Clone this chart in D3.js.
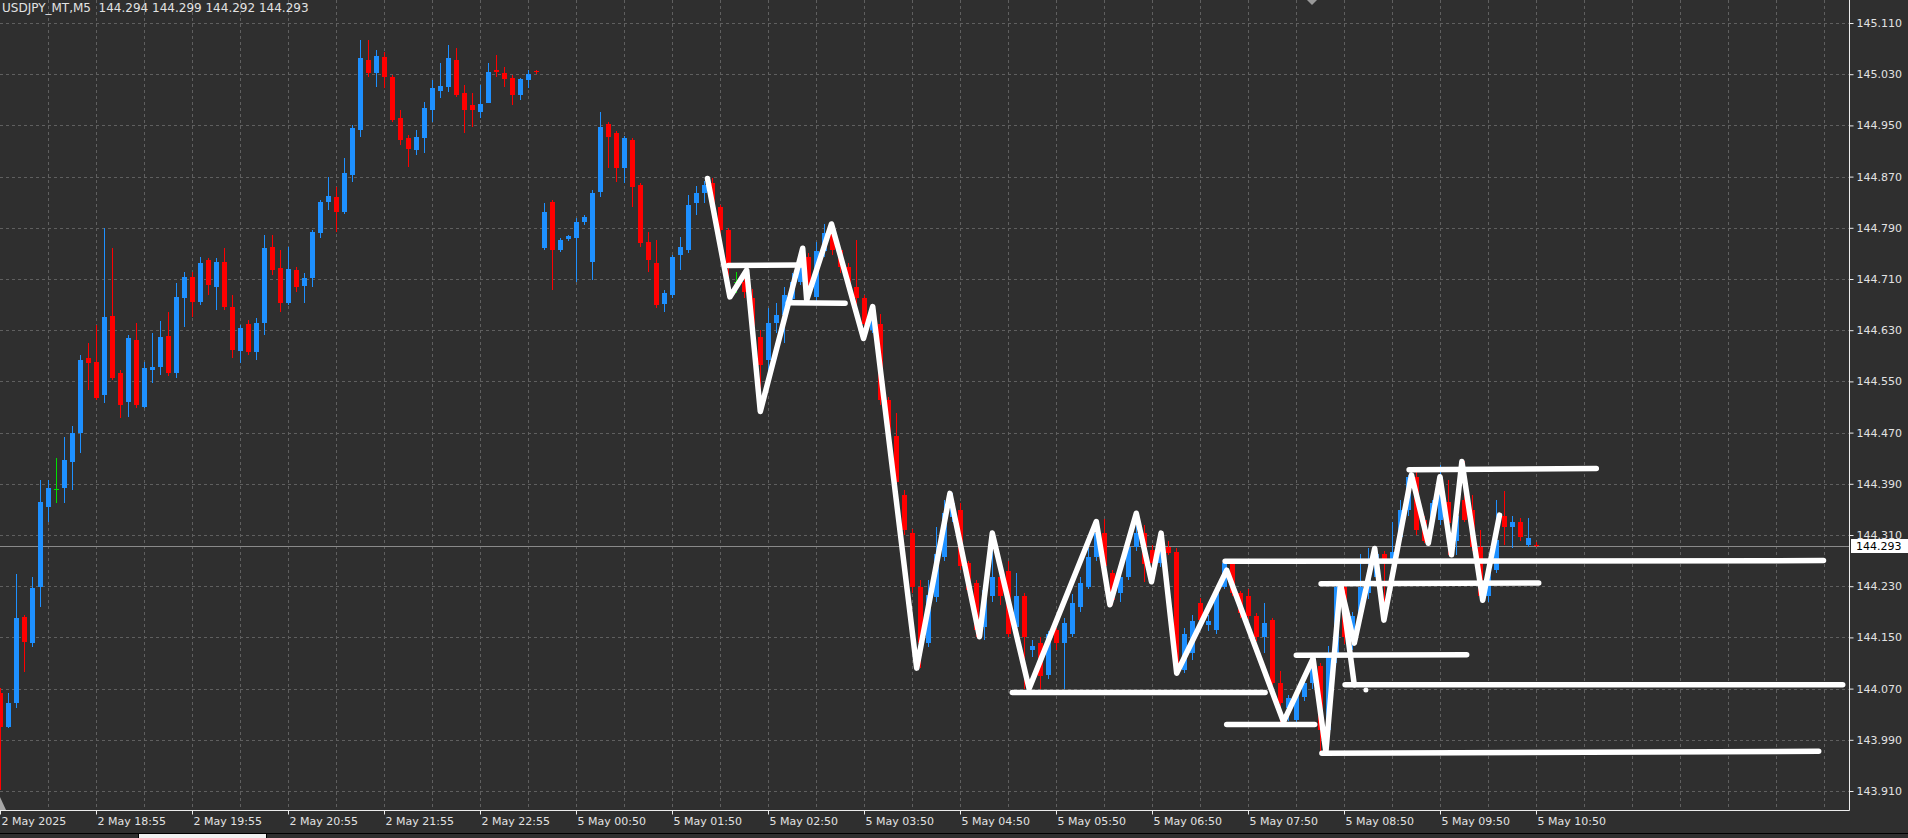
<!DOCTYPE html>
<html><head><meta charset="utf-8">
<script src="https://cdn.jsdelivr.net/npm/d3@7"></script>
<style>
html,body{margin:0;padding:0;background:#2f2f2f;overflow:hidden;}
svg{display:block;}
</style></head><body>
<svg id="chart" width="1908" height="838"></svg>
<script>
const chartTitle = "USDJPY_MT,M5  144.294 144.299 144.292 144.293";
const currentPrice = 144.293;

const opens = [144.063,144.010,144.047,144.182,144.141,144.229,144.354,144.382,144.383,144.424,144.469,144.587,
144.580,144.529,144.652,144.563,144.518,144.615,144.510,144.568,144.573,144.621,144.563,144.680,
144.713,144.674,144.740,144.697,144.737,144.666,144.597,144.640,144.596,144.641,144.760,144.727,
144.673,144.724,144.699,144.712,144.782,144.830,144.838,144.815,144.873,144.943,145.052,145.032,
145.057,145.026,144.962,144.930,144.912,144.930,144.974,145.004,145.010,145.052,145.001,144.982,
144.971,144.985,145.037,145.032,145.024,144.998,145.021,145.035,144.758,144.830,144.755,144.772,
144.774,144.799,144.737,144.846,144.952,144.938,144.883,144.927,144.857,144.768,144.735,144.671,
144.685,144.748,144.755,144.829,144.844,144.860,144.823,144.787,144.705,144.705,144.680,144.620,
144.583,144.641,144.654,144.678,144.706,144.745,144.682,144.753,144.782,144.755,144.729,144.698,
144.680,144.630,144.640,144.521,144.464,144.373,144.313,144.229,144.141,144.213,144.276,144.338,
144.349,144.266,144.235,144.167,144.214,144.245,144.253,144.167,144.214,144.130,144.141,144.091,
144.162,144.141,144.156,144.198,144.229,144.276,144.313,144.250,144.219,144.245,144.292,144.313,
144.287,144.266,144.292,144.284,144.099,144.125,144.203,144.170,144.162,144.229,144.266,144.219,
144.214,144.183,144.151,144.177,144.078,144.040,144.021,144.057,144.078,144.105,144.005,144.125,
144.229,144.146,144.183,144.219,144.245,144.280,144.266,144.307,144.349,144.401,144.334,144.334,
144.334,144.362,144.300,144.365,144.349,144.292,144.214,144.255,144.339,144.323,144.331,144.294,
144.294];
const highs = [144.071,144.063,144.249,144.185,144.244,144.396,144.396,144.430,144.463,144.481,144.591,144.610,
144.638,144.790,144.758,144.568,144.622,144.641,144.580,144.626,144.644,144.658,144.704,144.721,
144.721,144.744,144.743,144.743,144.758,144.685,144.638,144.646,144.649,144.779,144.779,144.755,
144.760,144.729,144.719,144.787,144.833,144.869,144.854,144.899,144.951,145.083,145.083,145.068,
145.065,145.029,144.974,144.935,144.943,144.987,145.021,145.048,145.076,145.071,145.013,145.001,
145.013,145.048,145.060,145.041,145.029,145.024,145.037,145.037,144.829,144.833,144.774,144.779,
144.805,144.810,144.849,144.971,144.955,144.941,144.933,144.930,144.860,144.783,144.771,144.693,
144.748,144.776,144.841,144.855,144.863,144.868,144.826,144.790,144.721,144.724,144.695,144.630,
144.665,144.672,144.698,144.719,144.758,144.750,144.768,144.796,144.790,144.758,144.735,144.771,
144.685,144.667,144.655,144.525,144.500,144.380,144.320,144.240,144.240,144.323,144.365,144.375,
144.360,144.270,144.240,144.240,144.300,144.260,144.270,144.250,144.220,144.146,144.150,144.160,
144.165,144.180,144.218,144.245,144.290,144.331,144.335,144.255,144.250,144.300,144.344,144.325,
144.295,144.313,144.300,144.290,144.165,144.185,144.212,144.185,144.230,144.269,144.270,144.222,
144.225,144.188,144.203,144.180,144.098,144.060,144.068,144.090,144.117,144.110,144.136,144.232,
144.232,144.190,144.281,144.289,144.290,144.285,144.330,144.365,144.404,144.410,144.340,144.365,
144.420,144.396,144.360,144.425,144.372,144.318,144.270,144.365,144.378,144.340,144.337,144.337,
144.299];
const lows = [143.912,144.008,144.040,144.096,144.135,144.197,144.330,144.360,144.360,144.380,144.438,144.537,
144.521,144.516,144.552,144.493,144.494,144.508,144.508,144.548,144.560,144.558,144.555,144.635,
144.651,144.669,144.685,144.662,144.662,144.587,144.579,144.591,144.583,144.622,144.716,144.658,
144.669,144.690,144.673,144.698,144.774,144.818,144.783,144.812,144.862,144.932,145.026,145.010,
145.008,144.955,144.919,144.885,144.904,144.907,144.955,144.993,145.002,144.994,144.938,144.948,
144.962,144.985,145.026,145.010,144.982,144.990,145.008,145.031,144.755,144.693,144.752,144.770,
144.705,144.795,144.708,144.838,144.883,144.862,144.860,144.823,144.760,144.721,144.665,144.658,
144.680,144.724,144.751,144.810,144.829,144.815,144.779,144.682,144.688,144.680,144.630,144.505,
144.557,144.626,144.610,144.670,144.700,144.677,144.675,144.745,144.748,144.720,144.690,144.650,
144.617,144.625,144.513,144.455,144.385,144.310,144.220,144.102,144.135,144.205,144.270,144.330,
144.255,144.215,144.151,144.146,144.205,144.200,144.150,144.160,144.070,144.120,144.070,144.085,
144.130,144.070,144.150,144.190,144.225,144.270,144.255,144.201,144.205,144.240,144.285,144.237,
144.260,144.260,144.278,144.094,144.094,144.115,144.170,144.160,144.155,144.225,144.215,144.180,
144.178,144.145,144.126,144.075,144.018,144.020,144.015,144.050,144.070,143.971,143.990,144.110,
144.140,144.130,144.175,144.210,144.230,144.177,144.255,144.300,144.340,144.310,144.297,144.320,
144.325,144.279,144.279,144.330,144.285,144.208,144.205,144.250,144.294,144.289,144.300,144.292,
144.292];
const closes = [144.010,144.047,144.180,144.143,144.227,144.362,144.383,144.382,144.427,144.469,144.583,144.579,
144.524,144.651,144.555,144.513,144.618,144.513,144.571,144.573,144.619,144.563,144.682,144.713,
144.674,144.735,144.701,144.737,144.666,144.599,144.633,144.596,144.641,144.758,144.724,144.673,
144.726,144.698,144.712,144.783,144.830,144.840,144.815,144.876,144.946,145.055,145.032,145.058,
145.026,144.958,144.927,144.913,144.932,144.977,145.008,145.012,145.055,144.998,144.974,144.974,
144.983,145.033,145.033,145.023,144.998,145.023,145.030,145.033,144.815,144.755,144.771,144.777,
144.799,144.807,144.845,144.948,144.932,144.883,144.930,144.854,144.766,144.740,144.669,144.688,
144.744,144.760,144.826,144.844,144.857,144.823,144.787,144.729,144.705,144.690,144.636,144.575,
144.641,144.654,144.685,144.706,144.745,144.690,144.753,144.782,144.755,144.729,144.698,144.680,
144.640,144.660,144.521,144.464,144.393,144.318,144.229,144.141,144.216,144.281,144.344,144.360,
144.261,144.224,144.162,144.224,144.245,144.215,144.156,144.214,144.151,144.136,144.089,144.156,
144.141,144.172,144.203,144.235,144.276,144.313,144.261,144.208,144.245,144.292,144.313,144.265,
144.266,144.292,144.282,144.099,144.156,144.175,144.177,144.175,144.224,144.266,144.219,144.188,
144.183,144.151,144.172,144.078,144.047,144.055,144.060,144.078,144.105,144.005,144.125,144.229,
144.151,144.183,144.229,144.245,144.280,144.266,144.284,144.349,144.400,144.318,144.300,144.360,
144.401,144.328,144.340,144.334,144.292,144.214,144.255,144.302,144.323,144.331,144.307,144.305,
144.293];

const yTicks = [145.110,145.030,144.950,144.870,144.790,144.710,144.630,144.550,144.470,144.390,144.310,144.230,144.150,144.070,143.990,143.910];
const xTickBars = [0,12,24,36,48,60,72,84,96,108,120,132,144,156,168,180,192];
const xTickLabels = ["2 May 2025","2 May 18:55","2 May 19:55","2 May 20:55","2 May 21:55","2 May 22:55",
"5 May 00:50","5 May 01:50","5 May 02:50","5 May 03:50","5 May 04:50","5 May 05:50","5 May 06:50",
"5 May 07:50","5 May 08:50","5 May 09:50","5 May 10:50"];

// hand-drawn zigzag: [bar position, price]
const zigzagBars = [88.4,91.2,93.3,95.0,100.3,100.8,103.9,107.9,109.05,114.55,118.7,122.4,124.0,128.6,137.0,138.7,142.0,143.9,145.1,147.05,153.3,160.4,164.1,165.7,167.5,169.25,171.8,172.95,176.4,178.5,179.96,181.4,182.7,185.3,187.4];
const zigzagPrices = [144.867,144.682,144.724,144.503,144.758,144.677,144.796,144.617,144.667,144.102,144.375,144.151,144.313,144.070,144.331,144.201,144.344,144.237,144.313,144.094,144.255,144.018,144.117,143.971,144.232,144.141,144.289,144.177,144.404,144.297,144.401,144.279,144.425,144.208,144.341];
const strokeBars = [167.6,169.25];
const strokePrices = [144.230,144.076];
// hand-drawn level lines
const levelStartBar = [91.0,98.5,126.5,153.3,153.1,165.1,162.0,168.1,165.2,176.1];
const levelEndBar   = [100.2,105.6,158.1,164.3,227.9,192.3,183.3,230.3,227.3,199.5];
const levelStartPrice = [144.731,144.673,144.064,144.014,144.269,144.234,144.122,144.076,143.969,144.412];
const levelEndPrice   = [144.732,144.672,144.064,144.014,144.270,144.235,144.123,144.076,143.972,144.414];
const dotBar = 170.7, dotPrice = 144.068;

const W = 1908, H = 838, plotR = 1849, plotB = 810;
const bg = "#2f2f2f", gridC = "#5f5f5f", txtC = "#e2e2e2";
const up = "#1e90ff", down = "#ff0000", doji = "#00e000";

const svg = d3.select("#chart");
svg.append("rect").attr("width", W).attr("height", H).attr("fill", bg);

const x = d3.scaleLinear().domain([0, 230]).range([0.3, 1840.3]);
const y = d3.scaleLinear().domain([143.910, 145.110]).range([791, 23]);

const defs = svg.append("defs");
defs.append("clipPath").attr("id", "plot").append("rect").attr("x", 0).attr("y", 0).attr("width", plotR).attr("height", plotB);

const g = svg.append("g").attr("clip-path", "url(#plot)");

// grid
const vGrid = d3.range(6, 231, 6);
g.append("g").selectAll("line").data(yTicks).join("line")
  .attr("x1", 0).attr("x2", plotR)
  .attr("y1", d => Math.round(y(d)) + 0.5).attr("y2", d => Math.round(y(d)) + 0.5)
  .attr("stroke", gridC).attr("stroke-dasharray", "3,3");
g.append("g").selectAll("line").data(vGrid).join("line")
  .attr("y1", 0).attr("y2", plotB)
  .attr("x1", d => Math.round(x(d)) + 0.5).attr("x2", d => Math.round(x(d)) + 0.5)
  .attr("stroke", gridC).attr("stroke-dasharray", "3,3");

// current price line
g.append("line").attr("x1", 0).attr("x2", plotR)
  .attr("y1", Math.round(y(currentPrice)) + 0.5).attr("y2", Math.round(y(currentPrice)) + 0.5)
  .attr("stroke", "#8a8a8a").attr("stroke-width", 1);

// candles
const bars = opens.map((o, i) => ({i, o, h: highs[i], l: lows[i], c: closes[i]}));
const colorOf = d => d.c > d.o ? up : (d.c < d.o ? down : doji);
const cg = g.append("g").attr("shape-rendering", "crispEdges");
cg.selectAll("line").data(bars).join("line")
  .attr("x1", d => Math.round(x(d.i)) + 0.5).attr("x2", d => Math.round(x(d.i)) + 0.5)
  .attr("y1", d => y(d.h)).attr("y2", d => y(d.l))
  .attr("stroke", colorOf).attr("stroke-width", 1);
cg.selectAll("rect").data(bars.filter(d => d.c !== d.o)).join("rect")
  .attr("x", d => Math.round(x(d.i)) - 2).attr("width", 5)
  .attr("y", d => y(Math.max(d.o, d.c)))
  .attr("height", d => Math.max(1, Math.abs(y(d.o) - y(d.c))))
  .attr("fill", colorOf);
cg.selectAll("line.dj").data(bars.filter(d => d.c === d.o)).join("line").attr("class", "dj")
  .attr("x1", d => Math.round(x(d.i)) - 2).attr("x2", d => Math.round(x(d.i)) + 3)
  .attr("y1", d => Math.round(y(d.o)) + 0.5).attr("y2", d => Math.round(y(d.o)) + 0.5)
  .attr("stroke", doji);

// drawings
const dg = g.append("g").attr("stroke", "#ffffff").attr("stroke-width", 5.5)
  .attr("stroke-linecap", "round").attr("stroke-linejoin", "round").attr("fill", "none");
const levels = levelStartBar.map((b, k) => [[b, levelStartPrice[k]], [levelEndBar[k], levelEndPrice[k]]]);
const lineGen = d3.line().x(d => x(d[0])).y(d => y(d[1]));
dg.selectAll("path.lvl").data(levels).join("path").attr("class", "lvl").attr("d", lineGen);
dg.append("path").attr("d", lineGen(zigzagBars.map((b, k) => [b, zigzagPrices[k]])));
dg.append("path").attr("d", lineGen(strokeBars.map((b, k) => [b, strokePrices[k]])));
g.append("circle").attr("cx", x(dotBar)).attr("cy", y(dotPrice)).attr("r", 2.5).attr("fill", "#fff");

// markers
svg.append("polygon").attr("points", "1307,0 1317,0 1312,5").attr("fill", "#9a9a9a");
svg.append("polygon").attr("points", "0,797 6,810 0,810").attr("fill", "#a8a8a8");

// frame
svg.append("line").attr("x1", plotR + 0.5).attr("x2", plotR + 0.5).attr("y1", 0).attr("y2", plotB + 0.5)
  .attr("stroke", "#ececec");
svg.append("line").attr("x1", 0).attr("x2", plotR + 0.5).attr("y1", plotB + 0.5).attr("y2", plotB + 0.5)
  .attr("stroke", "#ececec");

// right axis
const yAxis = d3.axisRight(y).tickValues(yTicks).tickFormat(d3.format(".3f")).tickSize(4).tickPadding(3);
const ya = svg.append("g").attr("transform", `translate(${plotR + 0.5},0)`).call(yAxis);
ya.select(".domain").remove();
ya.selectAll("line").attr("stroke", "#ececec");
ya.selectAll("text").attr("fill", txtC).attr("font-family", "DejaVu Sans, Verdana, sans-serif").attr("font-size", 11);

// bottom axis
const xAxis = d3.axisBottom(x).tickValues(xTickBars).tickFormat((d, k) => xTickLabels[k]).tickSize(4).tickPadding(3);
const xa = svg.append("g").attr("transform", `translate(0,${plotB + 0.5})`).call(xAxis);
xa.select(".domain").remove();
xa.selectAll(".tick").attr("transform", d => `translate(${Math.round(x(d)) + 0.5},0)`);
xa.selectAll("line").attr("stroke", "#ececec");
xa.selectAll("text").attr("fill", txtC).attr("font-family", "DejaVu Sans, Verdana, sans-serif").attr("font-size", 11)
  .attr("text-anchor", "start").attr("x", 1);

// current price label
const cp = svg.append("g");
cp.append("rect").attr("x", plotR + 2).attr("y", Math.round(y(currentPrice)) - 7).attr("width", W - plotR - 2).attr("height", 14).attr("fill", "#ffffff");
cp.append("text").attr("x", plotR + 7).attr("y", y(currentPrice)).attr("dy", "0.35em")
  .attr("fill", "#000").attr("font-family", "DejaVu Sans, Verdana, sans-serif").attr("font-size", 11)
  .text(d3.format(".3f")(currentPrice));

// title
svg.append("text").attr("x", 2).attr("y", 12).attr("fill", txtC)
  .attr("font-family", "DejaVu Sans, Verdana, sans-serif").attr("font-size", 12)
  .style("white-space", "pre").text(chartTitle);

// bottom tab strip
svg.append("line").attr("x1", 0).attr("x2", W).attr("y1", 833.5).attr("y2", 833.5).attr("stroke", "#000");
svg.append("rect").attr("x", 139).attr("y", 834).attr("width", 127).attr("height", 4).attr("fill", "#f0f0f0");
svg.append("line").attr("x1", 138.5).attr("x2", 138.5).attr("y1", 834).attr("y2", 838).attr("stroke", "#000");
svg.append("line").attr("x1", 266.5).attr("x2", 266.5).attr("y1", 834).attr("y2", 838).attr("stroke", "#000");
</script>
</body></html>
